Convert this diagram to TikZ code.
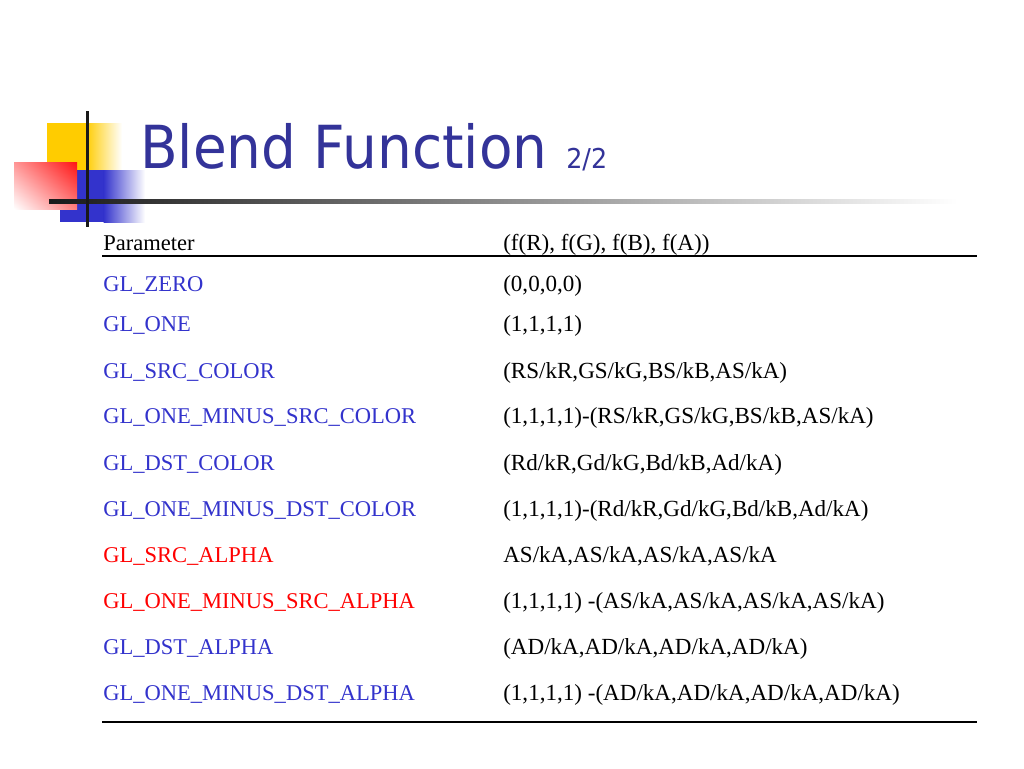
\documentclass[tikz,border=0pt]{standalone}
\usepackage{fontspec}
\usetikzlibrary{shadings}
\setmainfont{Liberation Serif}
\newfontfamily\titlefont{DejaVu Sans}
\definecolor{titleblue}{RGB}{51,51,153}
\definecolor{lblblue}{RGB}{51,51,204}
\definecolor{lblred}{RGB}{255,0,0}
\definecolor{logoyellow}{RGB}{255,204,0}
\definecolor{logored}{RGB}{255,20,20}
\definecolor{logoblue}{RGB}{51,51,204}
\begin{document}
\begin{tikzpicture}[x=0.75pt,y=-0.75pt,
  cell/.style={anchor=base west,inner sep=0pt,font=\fontsize{16.9pt}{20pt}\selectfont},
  valcell/.style={anchor=base west,inner sep=0pt,font=\fontsize{17.3pt}{20pt}\selectfont},
  bluecell/.style={cell,text=lblblue},
  redcell/.style={cell,text=lblred},
  rule/.style={line width=2.2pt,black}]
\useasboundingbox[fill=white] (0,0) rectangle (1024,768);
% logo
\fill[logoyellow] (47,123) rectangle (86,172);
\shade[left color=logoyellow,right color=white] (85.5,123) rectangle (122,172);
\fill[logoblue] (60,170) rectangle (104,222);
\shade[left color=logoblue,right color=white] (103.5,170) rectangle (145,222);
\shade[upper right=logored,upper left=logored!45,lower right=logored!55,lower left=white] (14,162) rectangle (77,209);
\shade[left color=black!90,right color=white] (49,199) rectangle (957,203.5);
\fill[black!90] (85.5,111) rectangle (89,227);
% title
\node[anchor=base west,inner sep=0pt,text=titleblue,font=\titlefont\fontsize{44.5pt}{50pt}\selectfont] (title) at (140,168) {\scalebox{0.925}[1]{Blend Function}};
\node[anchor=base west,inner sep=0pt,text=titleblue,font=\titlefont\fontsize{20.5pt}{22pt}\selectfont] (page) at (566,168) {\scalebox{0.93}[1]{2/2}};
% table
\node[cell] (h1) at (103,250) {Parameter};
\node[valcell] (h2) at (503,250) {(f(R), f(G), f(B), f(A))};
\coordinate (rl) at (102,256);
\coordinate (rr) at (977,256);
\draw[rule] (rl) -- (rr);
\node[bluecell] (p1) at (103,291) {GL\_ZERO};
\node[valcell] (v1) at (503,291) {(0,0,0,0)};
\node[bluecell] (p2) at (103,331) {GL\_ONE};
\node[valcell] (v2) at (503,331) {(1,1,1,1)};
\node[bluecell] (p3) at (103,378) {GL\_SRC\_COLOR};
\node[valcell] (v3) at (503,378) {(RS/kR,GS/kG,BS/kB,AS/kA)};
\node[bluecell] (p4) at (103,423) {GL\_ONE\_MINUS\_SRC\_COLOR};
\node[valcell] (v4) at (503,423) {(1,1,1,1)-(RS/kR,GS/kG,BS/kB,AS/kA)};
\node[bluecell] (p5) at (103,470) {GL\_DST\_COLOR};
\node[valcell] (v5) at (503,470) {(Rd/kR,Gd/kG,Bd/kB,Ad/kA)};
\node[bluecell] (p6) at (103,516) {GL\_ONE\_MINUS\_DST\_COLOR};
\node[valcell] (v6) at (503,516) {(1,1,1,1)-(Rd/kR,Gd/kG,Bd/kB,Ad/kA)};
\node[redcell] (p7) at (103,562) {GL\_SRC\_ALPHA};
\node[valcell] (v7) at (503,562) {AS/kA,AS/kA,AS/kA,AS/kA};
\node[redcell] (p8) at (103,608) {GL\_ONE\_MINUS\_SRC\_ALPHA};
\node[valcell] (v8) at (503,608) {(1,1,1,1) -(AS/kA,AS/kA,AS/kA,AS/kA)};
\node[bluecell] (p9) at (103,654) {GL\_DST\_ALPHA};
\node[valcell] (v9) at (503,654) {(AD/kA,AD/kA,AD/kA,AD/kA)};
\node[bluecell] (p10) at (103,700) {GL\_ONE\_MINUS\_DST\_ALPHA};
\node[valcell] (v10) at (503,700) {(1,1,1,1) -(AD/kA,AD/kA,AD/kA,AD/kA)};
\coordinate (bl) at (102,722);
\coordinate (br) at (977,722);
\draw[rule] (bl) -- (br);
\end{tikzpicture}
\end{document}
